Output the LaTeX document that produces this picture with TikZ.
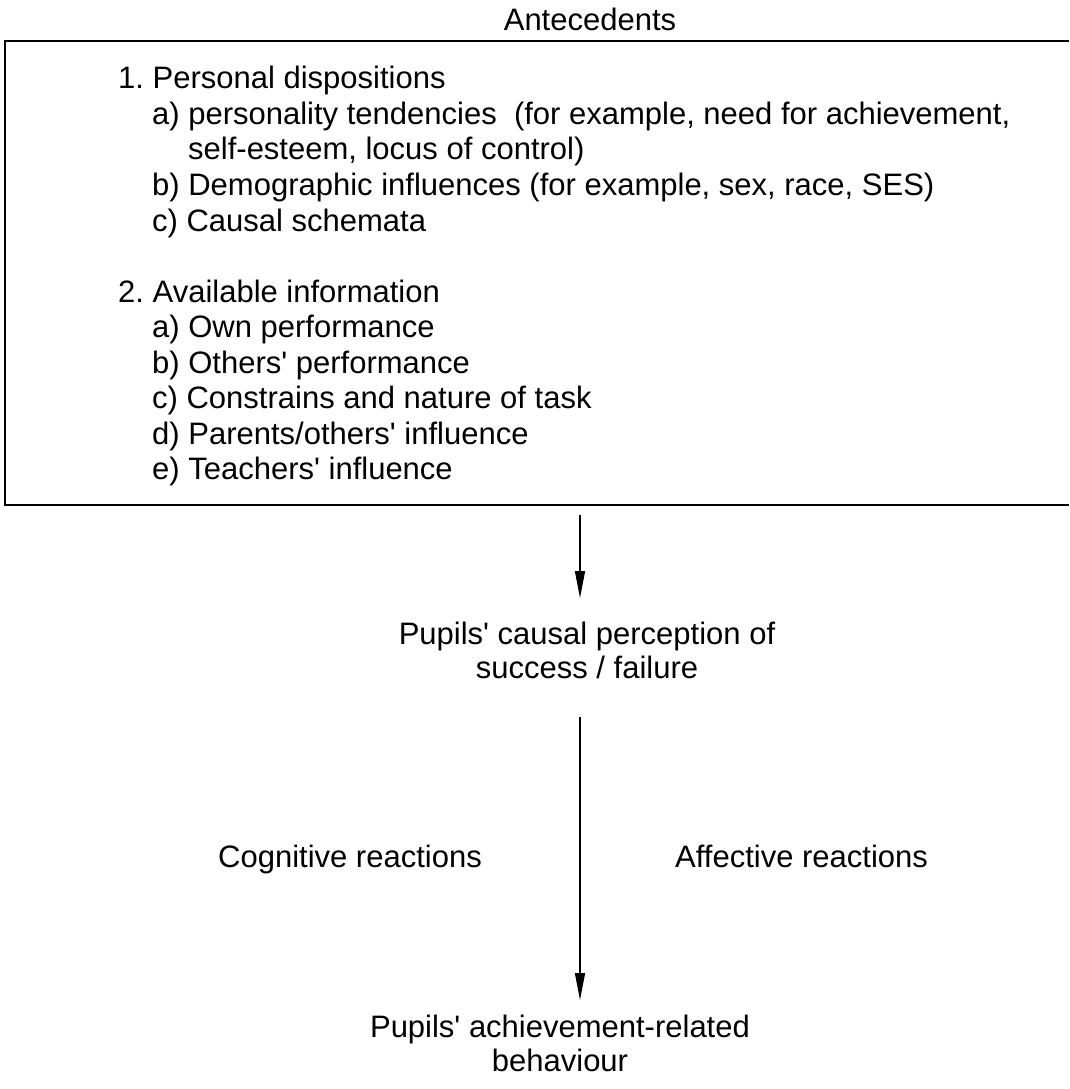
\documentclass[tikz,border=0pt]{standalone}
\usepackage{fontspec}
\setmainfont{Liberation Sans}
\usepackage{tikz}
\usetikzlibrary{arrows.meta,positioning,calc}
\newcommand{\apos}{\textquotesingle}
\frenchspacing
\tikzset{
    flow/.style={-{Triangle[length=27pt, width=10pt]}, line width=1.5pt},
    lbl/.style={inner sep=0pt, font=\fontsize{31}{34}\selectfont},
    item/.style={lbl, anchor=base west},
    frame/.style={line width=2.2pt}
}

\begin{document}
\begin{tikzpicture}[x=1pt, y=-1pt]
                    \useasboundingbox (0,0) rectangle (1069,1089);
                    \node[lbl, anchor=base] (ante) at (590,31) {Antecedents};
                    \draw[frame] (1069,41) -- (5,41) -- (5,505) -- (1069,505);
                    
                    \node[item] (disp) at (118,89) {1. Personal dispositions};
                    \node[item] (pers) at (152,124.5) {a) personality tendencies\ \ (for example, need for achievement,};
                    \node[item] (pers2) at (188,160) {self-esteem, locus of control)};
                    \node[item] (demo) at (152,195.5) {b) Demographic influences (for example, sex, race, SES)};
                    \node[item] (schem) at (152,231) {c) Causal schemata};
                    \node[item] (info) at (118,302) {2. Available information};
                    \node[item] (own) at (152,337.5) {a) Own performance};
                    \node[item] (others) at (152,373) {b) Others\apos{} performance};
                    \node[item] (task) at (152,408.5) {c) Constrains and nature of task};
                    \node[item] (parents) at (152,444) {d) Parents/others\apos{} influence};
                    \node[item] (teach) at (152,479.5) {e) Teachers\apos{} influence};
                    
                    \node[lbl, align=center, anchor=north] (percept) at (587,622) {Pupils\apos{} causal perception of\\success / failure};
                    \node[lbl, anchor=base west] (cogn) at (218,867) {Cognitive reactions};
                    \node[lbl, anchor=base west] (affect) at (675,867) {Affective reactions};
                    \node[lbl, align=center, anchor=north] (behav) at (560,1015) {Pupils\apos{} achievement-related\\behaviour};
                    
                    \coordinate (axis) at (580,515);
                    \draw[flow, shorten >=24pt] (axis) -- (axis |- percept.north);
                    \draw[flow, shorten <=38pt, shorten >=15pt] (axis |- percept.south) -- (axis |- behav.north);
                \end{tikzpicture}
\end{document}
